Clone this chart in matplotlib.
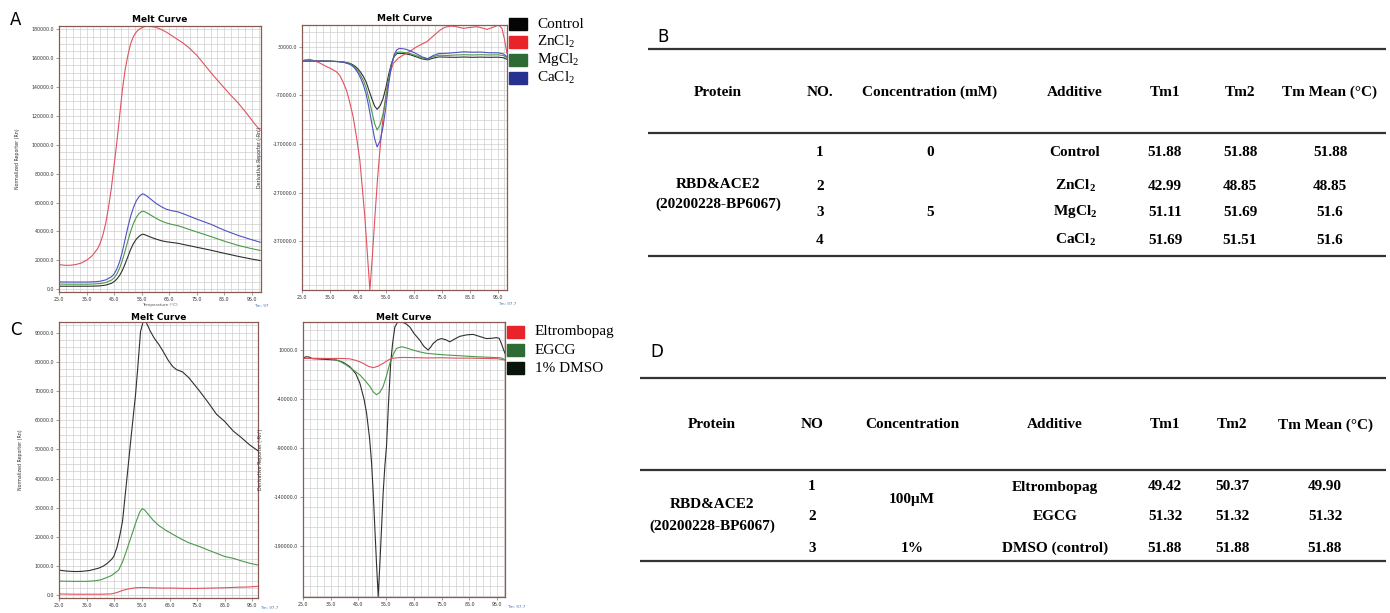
import numpy as np
import matplotlib
matplotlib.use("Agg")
import matplotlib.pyplot as plt
from matplotlib.patches import Rectangle
from matplotlib.ticker import MultipleLocator, FixedLocator

plt.rcParams['mathtext.fontset'] = 'custom'
plt.rcParams['mathtext.rm'] = 'Liberation Serif'
plt.rcParams['mathtext.bf'] = 'Liberation Serif:bold'

# ---------------- data: panel A (metal salts) ----------------
a_fluo_x = [25, 30, 35, 38, 40, 42, 44, 45, 46, 47, 48, 49, 50, 51, 52, 53, 54, 55, 55.5, 56, 57, 58,
            60, 62, 64, 66, 68, 70, 75, 80, 85, 90, 95, 98]
a_fluo_control = [2000, 2000, 2000, 2100, 2300, 2800, 4000, 5200, 7000, 9500, 13000, 17500, 22500, 27500,
                  31500, 34500, 36500, 37800, 38000, 37800, 37000, 36200, 34800, 33600, 32800, 32300, 31800,
                  31000, 29000, 27000, 24800, 22700, 20800, 19800]
a_fluo_mg = [3500, 3400, 3400, 3600, 3900, 4600, 6200, 7800, 10500, 14500, 20000, 26500, 33500, 40000, 45500,
             49500, 52300, 53800, 54000, 53700, 52700, 51600, 49300, 47300, 45800, 44800, 44000, 42800, 39600,
             36500, 33200, 30300, 28000, 26800]
a_fluo_ca = [5000, 4900, 4900, 5100, 5500, 6400, 8500, 10500, 14000, 19000, 26000, 34500, 43000, 50500, 56500,
             61000, 64000, 65700, 66000, 65600, 64300, 62800, 59700, 57200, 55300, 54300, 53600, 52300, 48500,
             45000, 40800, 37200, 34200, 32500]
a_fluo_zn_x = [25, 27, 29, 31, 33, 35, 37, 39, 40, 41, 42, 43, 44, 45, 46, 47, 48, 49, 50, 51, 52, 53, 54, 55,
               56, 57, 58, 60, 62, 64, 66, 68, 70, 72, 75, 78, 81, 84, 87, 90, 93, 96, 98]
a_fluo_zn = [17000, 16500, 16500, 17000, 18000, 20000, 23000, 28000, 32000, 38000, 46000, 57000, 70000, 86000,
             102000, 120000, 138000, 152000, 162000, 170000, 175000, 178000, 180000, 181000, 181800, 182200,
             182000, 181500, 180000, 178000, 175500, 173000, 170500, 167500, 162000, 155000, 148000, 141500,
             135000, 129000, 122000, 114500, 110000]

a_deriv_x = [25, 30, 35, 38, 40, 42, 43, 44, 45, 46, 47, 48, 49, 50, 51, 51.9, 53, 54, 55, 56, 57, 58, 59, 60,
             62, 64, 66, 68, 70, 72, 74, 77, 80, 83, 86, 89, 92, 95, 97, 98.4]
a_deriv_control = [600, 600, 300, -500, -1500, -4000, -6500, -10000, -15500, -22500, -31500, -43000, -60000,
                   -77000, -92000, -98700, -91000, -77000, -55000, -28000, -5000, 10000, 16000, 16400, 15500,
                   13000, 9000, 5000, 3000, 6500, 9000, 8500, 8200, 8800, 8200, 8600, 8200, 8500, 7500, 4100]
a_deriv_mg = [600, 600, 300, -600, -1800, -5000, -8000, -12500, -19500, -28500, -40000, -55000, -78000, -103000,
              -128000, -141200, -130000, -108000, -76000, -38000, -7000, 11000, 18500, 19000, 18000, 15500,
              11500, 7000, 4500, 9500, 12500, 12000, 13000, 13500, 13000, 13500, 13000, 13300, 12000, 7500]
a_deriv_ca = [600, 600, 200, -800, -2200, -6000, -9500, -15000, -23500, -34500, -49000, -68000, -96000, -128000,
              -159000, -176000, -163000, -135000, -95000, -48000, -9000, 14000, 24000, 26600, 25000, 21000,
              15500, 9000, 5500, 12000, 16000, 16500, 18000, 19500, 18700, 19000, 17500, 17500, 15500, 9500]
a_deriv_zn_x = [25, 26, 27.8, 29, 31, 32.5, 34, 35.5, 37.3, 38.5, 39.5, 40.9, 42, 43.3, 44.5, 45.7, 46.6, 47.5,
                48.4, 49.3, 50.2, 51.1, 52, 52.9, 54, 55.3, 56.5, 57.7, 59.5, 61.3, 63.5, 66.1, 68, 69.7, 72,
                74.5, 76, 78.1, 80, 82.8, 85, 87.6, 89.5, 91.2, 93, 95.4, 96.6, 97.5, 98.4]
a_deriv_zn = [600, 3000, 4000, 2000, -2500, -7000, -11500, -15500, -21400, -29000, -40000, -59000, -82000,
              -114000, -155000, -203000, -260000, -320000, -395000, -470000, -400000, -320000, -245000, -182000,
              -115000, -59000, -25000, -4100, 6500, 13000, 20000, 30000, 35500, 40300, 52000, 64300, 69500,
              72500, 71500, 67700, 69500, 71100, 68500, 65600, 69000, 74500, 67700, 45000, 16400]

a_labels = ['Control', 'ZnCl$_2$', 'MgCl$_2$', 'CaCl$_2$']

# ---------------- data: panel C (compounds) ----------------
c_fluo_dmso_x = [25, 26, 28, 30.7, 33, 36, 39.3, 41, 42.5, 44, 44.8, 46, 47, 48, 49, 50, 51, 52, 52.7, 53.5,
                 54.5, 55.3, 56, 57, 58, 59.5, 61.2, 63, 64.5, 66.1, 67.5, 69.7, 72, 75.9, 79, 82, 85, 88, 91,
                 94, 97]
c_fluo_dmso = [8700, 8500, 8300, 8160, 8200, 8500, 9300, 10000, 11000, 12300, 13300, 16500, 20500, 25500, 34800,
               44000, 53500, 62500, 68800, 78000, 90300, 93200, 94300, 92600, 90500, 88000, 85800, 83000, 80500,
               78400, 77300, 76500, 74500, 69900, 66000, 62000, 59500, 56300, 54000, 51500, 49500]
c_fluo_egcg_x = [25, 30, 35, 38, 40, 42, 44, 45, 46.6, 48, 49.5, 51.5, 53, 54.2, 55.1, 56, 57.5, 59, 61, 63.6,
                 66, 69, 72, 75.9, 79, 82, 85, 88, 91, 94, 97]
c_fluo_egcg = [4900, 4800, 4800, 5000, 5300, 6000, 6800, 7500, 8700, 11500, 15500, 21200, 25500, 28500, 29700,
               29200, 27500, 25800, 24000, 22300, 21000, 19400, 18000, 16700, 15500, 14400, 13300, 12700, 11800,
               11000, 10400]
c_fluo_eltr_x = [25, 30, 35, 40, 44, 46, 48, 50, 52, 53, 55, 58, 62, 66, 70, 75, 80, 85, 90, 94, 97]
c_fluo_eltr = [500, 400, 400, 400, 500, 1000, 1700, 2200, 2500, 2600, 2700, 2600, 2500, 2500, 2400, 2400, 2500,
               2600, 2800, 2900, 3100]

c_deriv_dmso_x = [25, 26, 27, 28.5, 30, 33, 37, 39.5, 41.9, 44, 45.5, 47, 47.9, 49, 49.7, 50.3, 50.9, 51.5, 52.1,
                  52.7, 53.3, 53.9, 54.5, 55.1, 55.8, 56.6, 57.3, 58.1, 59, 60.5, 62, 63.5, 65, 67.1, 68.5, 70.1,
                  71, 71.9, 73.5, 74.9, 76.5, 77.9, 79.5, 81.5, 84, 86.3, 88.5, 91.1, 93, 94.7, 95.7, 96.5, 97.2,
                  97.8]
c_deriv_dmso = [1500, 3200, 3000, 1200, 1000, 500, -100, -2500, -6900, -14000, -23700, -40000, -54000, -80000,
                -104500, -135000, -171800, -208000, -241000, -208000, -171800, -135000, -108000, -87700, -45000,
                -3500, 17000, 33500, 38000, 38600, 37000, 33500, 27000, 20000, 14000, 10000, 13000, 16700, 20500,
                21700, 20500, 18400, 21000, 24000, 25500, 26000, 24000, 21700, 22000, 22700, 22000, 16700, 11000,
                6700]
c_deriv_egcg_x = [25, 30, 35, 38, 40.6, 43, 45.5, 47.5, 49.1, 50.3, 51.5, 52.7, 53.9, 55, 56.3, 57.5, 58.7, 60.5,
                  62.5, 64.7, 67, 69.5, 73, 76.7, 80, 84, 87.5, 91, 95.9, 97, 97.8]
c_deriv_egcg = [1500, 1500, 1200, -1000, -5200, -10000, -15300, -21500, -27000, -32500, -35500, -33000, -27000,
                -17000, -3500, 5500, 11700, 13400, 12000, 10000, 8200, 6700, 5800, 5000, 4500, 3800, 3200, 2800,
                2200, 1500, -100]
c_deriv_eltr_x = [25, 30, 35, 40, 42, 44, 45.5, 46.7, 48.5, 50.3, 52, 53.9, 55.5, 56.9, 59, 61.1, 65, 70, 75, 80,
                  85, 90, 95, 97.8]
c_deriv_eltr = [1500, 1500, 1500, 1400, 1000, -500, -2000, -3500, -6500, -7900, -6500, -3500, -500, 1500, 2200,
                2500, 2300, 2000, 2200, 1800, 1800, 1500, 1200, -100]

c_labels = ['Eltrombopag', 'EGCG', '1% DMSO']

# ---------------- data: tables ----------------
tbl_b_header = ['Protein', 'NO.', 'Concentration (mM)', 'Additive', 'Tm1', 'Tm2', 'Tm Mean (\u00b0C)']
tbl_b_no = ['1', '2', '3', '4']
tbl_b_additive = ['Control', r'ZnCl$_{\mathbf{2}}$', r'MgCl$_{\mathbf{2}}$', r'CaCl$_{\mathbf{2}}$']
tbl_b_tm1 = ['51.88', '42.99', '51.11', '51.69']
tbl_b_tm2 = ['51.88', '48.85', '51.69', '51.51']
tbl_b_mean = ['51.88', '48.85', '51.6', '51.6']
tbl_b_conc = ['0', '5']

tbl_d_header = ['Protein', 'NO', 'Concentration', 'Additive', 'Tm1', 'Tm2', 'Tm Mean (\u00b0C)']
tbl_d_no = ['1', '2', '3']
tbl_d_additive = ['Eltrombopag', 'EGCG', 'DMSO (control)']
tbl_d_tm1 = ['49.42', '51.32', '51.88']
tbl_d_tm2 = ['50.37', '51.32', '51.88']
tbl_d_mean = ['49.90', '51.32', '51.88']
tbl_d_conc = ['100\u03bcM', '1%']
protein_name = ['RBD&ACE2', '(20200228-BP6067)']

# ---------------- figure ----------------
W, H = 1390, 613
fig = plt.figure(figsize=(W / 100, H / 100), dpi=100)

def ax_px(l, t, r, b):
    return fig.add_axes([l / W, 1 - b / H, (r - l) / W, (b - t) / H])

SPINE = '#8a5a55'
LRED, LGREEN, LBLUE, LBLACK = '#e0525e', '#4a9a48', '#5050c8', '#303030'

def style(ax, xlim, ylim, yticks, ygrid, ylabel, tmtext, title_pad=3, tm_pos=(1.0, -0.045), tm_ha='center'):
    ax.set_xlim(*xlim)
    ax.set_ylim(*ylim)
    ax.xaxis.set_major_locator(FixedLocator([25, 35, 45, 55, 65, 75, 85, 95]))
    ax.xaxis.set_minor_locator(MultipleLocator(2.5))
    ax.yaxis.set_major_locator(FixedLocator(yticks))
    ax.yaxis.set_minor_locator(MultipleLocator(ygrid))
    ax.xaxis.set_major_formatter(plt.FuncFormatter(lambda v, p: f'{v:.1f}'))
    ax.yaxis.set_major_formatter(plt.FuncFormatter(lambda v, p: f'{v:.1f}'))
    ax.grid(True, which='both', color='#cfcfcf', lw=0.5)
    ax.set_axisbelow(True)
    for s in ax.spines.values():
        s.set_color(SPINE)
        s.set_linewidth(0.9)
    ax.tick_params(which='major', length=2, width=0.5, color='#777777', labelsize=3.4,
                   labelcolor='#333333', pad=1.5)
    ax.tick_params(which='minor', length=0)
    ax.set_ylabel(ylabel, fontsize=3.4, color='#333333', labelpad=8)
    ax.set_title('Melt Curve', fontsize=6.5, fontweight='bold', pad=title_pad)
    ax.text(tm_pos[0], tm_pos[1], tmtext, transform=ax.transAxes, fontsize=3.0, color='#4a70b8',
            ha=tm_ha, va='top')

# Panel A left
ax1 = ax_px(59, 26, 261, 292)
ax1.plot(a_fluo_x, a_fluo_control, color=LBLACK, lw=0.8)
ax1.plot(a_fluo_zn_x, a_fluo_zn, color=LRED, lw=0.8)
ax1.plot(a_fluo_x, a_fluo_mg, color=LGREEN, lw=0.8)
ax1.plot(a_fluo_x, a_fluo_ca, color=LBLUE, lw=0.8)
style(ax1, (25, 98.3), (-2000, 182300), list(range(0, 180001, 20000)), 5000,
      'Normalized Reporter (Rn)', 'Tm: 97')
ax1.set_xlabel('Temperature (\u00b0C)', fontsize=3.0, color='#555555', labelpad=0.5)

# Panel A right
ax2 = ax_px(302, 25, 507, 290)
ax2.plot(a_deriv_x, a_deriv_control, color=LBLACK, lw=0.8)
ax2.plot(a_deriv_zn_x, a_deriv_zn, color=LRED, lw=0.8)
ax2.plot(a_deriv_x, a_deriv_mg, color=LGREEN, lw=0.8)
ax2.plot(a_deriv_x, a_deriv_ca, color=LBLUE, lw=0.8)
style(ax2, (25, 98.4), (-470000, 74600), [30000, -70000, -170000, -270000, -370000], 20000,
      "Derivative Reporter (-Rn')", 'Tm: 97.7')

# Panel C left
ax3 = ax_px(59, 322, 258, 598)
ax3.plot(c_fluo_dmso_x, c_fluo_dmso, color=LBLACK, lw=0.8)
ax3.plot(c_fluo_egcg_x, c_fluo_egcg, color=LGREEN, lw=0.8)
ax3.plot(c_fluo_eltr_x, c_fluo_eltr, color=LRED, lw=0.8)
style(ax3, (25, 97), (-900, 93600), list(range(0, 90001, 10000)), 2500,
      'Normalized Reporter (Rn)', 'Tm: 97.7', title_pad=1.5, tm_pos=(1.01, -0.03), tm_ha='left')

# Panel C right
ax4 = ax_px(303, 322, 505, 597)
ax4.plot(c_deriv_dmso_x, c_deriv_dmso, color=LBLACK, lw=0.8)
ax4.plot(c_deriv_egcg_x, c_deriv_egcg, color=LGREEN, lw=0.8)
ax4.plot(c_deriv_eltr_x, c_deriv_eltr, color=LRED, lw=0.8)
style(ax4, (25, 97.8), (-241500, 38600), [10000, -40000, -90000, -140000, -190000], 10000,
      "Derivative Reporter (-Rn')", 'Tm: 97.7', title_pad=1.5, tm_pos=(1.01, -0.03), tm_ha='left')

# overlay axes in pixel coords for legends, letters and tables
ov = fig.add_axes([0, 0, 1, 1])
ov.set_xlim(0, W)
ov.set_ylim(H, 0)
ov.axis('off')
ov.patch.set_alpha(0)

# legends
a_leg_colors = ['#050505', '#e8242a', '#2e6b35', '#27318f']
for i, (lab, col) in enumerate(zip(a_labels, a_leg_colors)):
    y = 24 + i * 18
    ov.add_patch(Rectangle((509, y - 6), 18, 12, color=col))
    ov.text(537, y, lab, fontsize=11, family='Liberation Serif', va='center', ha='left')
c_leg_colors = ['#e8242a', '#2e6b35', '#0a140a']
for i, (lab, col) in enumerate(zip(c_labels, c_leg_colors)):
    y = 332 + i * 18
    ov.add_patch(Rectangle((507, y - 6), 17, 12, color=col))
    ov.text(535, y, lab, fontsize=11, family='Liberation Serif', va='center', ha='left')

# panel letters
for letter, (x, y) in zip('ABCD', [(10, 20), (657, 37), (10, 330), (650, 352)]):
    ov.text(x, y, letter, fontsize=12, va='center', ha='left', family='DejaVu Sans')

# tables
TF = dict(family='Liberation Serif', fontweight='bold', fontsize=11, ha='center', va='center')
LC = '#333333'

def hline(y, x0, x1):
    ov.plot([x0, x1], [y, y], color=LC, lw=1.6, solid_capstyle='butt')

# table B
colx_b = [718, 820, 930, 1075, 1165, 1240, 1330]
hline(49, 648, 1386)
hline(133, 648, 1386)
hline(256, 648, 1386)
for x, t in zip(colx_b, tbl_b_header):
    ov.text(x, 92, t, **TF)
rows_b = [152, 186, 212, 240]
for i, y in enumerate(rows_b):
    ov.text(colx_b[1], y, tbl_b_no[i], **TF)
    ov.text(colx_b[3], y, tbl_b_additive[i], **TF)
    ov.text(colx_b[4], y, tbl_b_tm1[i], **TF)
    ov.text(colx_b[5], y, tbl_b_tm2[i], **TF)
    ov.text(colx_b[6], y, tbl_b_mean[i], **TF)
ov.text(colx_b[2], rows_b[0], tbl_b_conc[0], **TF)
ov.text(colx_b[2], rows_b[2], tbl_b_conc[1], **TF)
ov.text(colx_b[0], 185, protein_name[0], **TF)
ov.text(colx_b[0], 204, protein_name[1], **TF)

# table D
colx_d = [712, 812, 912, 1055, 1165, 1232, 1325]
hline(378, 640, 1386)
hline(470, 640, 1386)
hline(561, 640, 1386)
for x, t in zip(colx_d, tbl_d_header):
    ov.text(x, 425, t, **TF)
rows_d = [487, 517, 548]
for i, y in enumerate(rows_d):
    ov.text(colx_d[1], y, tbl_d_no[i], **TF)
    ov.text(colx_d[3], y, tbl_d_additive[i], **TF)
    ov.text(colx_d[4], y, tbl_d_tm1[i], **TF)
    ov.text(colx_d[5], y, tbl_d_tm2[i], **TF)
    ov.text(colx_d[6], y, tbl_d_mean[i], **TF)
ov.text(colx_d[2], 500, tbl_d_conc[0], **TF)
ov.text(colx_d[2], rows_d[2], tbl_d_conc[1], **TF)
ov.text(colx_d[0], 505, protein_name[0], **TF)
ov.text(colx_d[0], 526, protein_name[1], **TF)

fig.savefig('out.png', dpi=100, facecolor='white')
